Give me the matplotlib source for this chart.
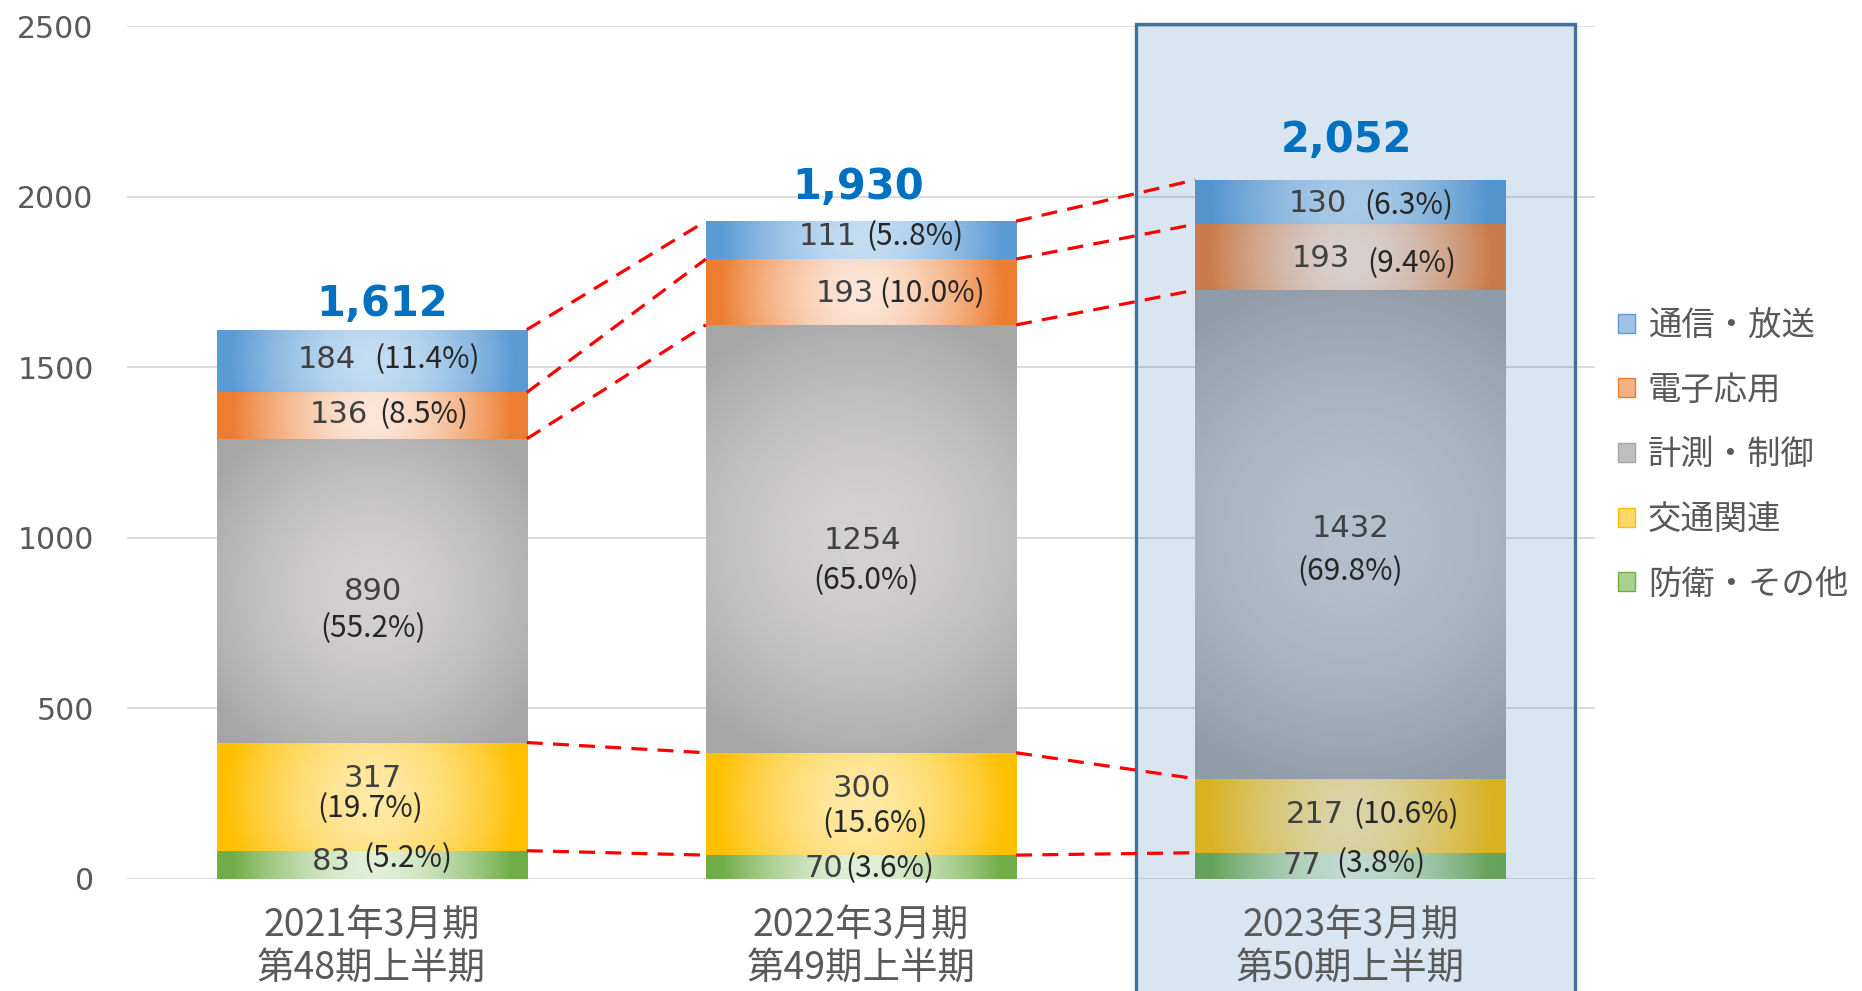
import numpy as np
import matplotlib
matplotlib.use("Agg")
import matplotlib.pyplot as plt
from matplotlib.patches import Rectangle, Patch
from matplotlib.colors import to_rgb

plt.rcParams['font.family'] = ['DejaVu Sans', 'Noto Sans CJK JP']
CJK = ['Noto Sans CJK JP', 'DejaVu Sans']

# ---------------- data ----------------
cat_line1 = ['2021年3月期', '2022年3月期', '2023年3月期']
cat_line2 = ['第48期上半期', '第49期上半期', '第50期上半期']
series_names = ['防衛・その他', '交通関連', '計測・制御', '電子応用', '通信・放送']  # bottom -> top
defense = [83, 70, 77]
traffic = [317, 300, 217]
measure = [890, 1254, 1432]
electronic = [136, 193, 193]
telecom = [184, 111, 130]
pct_defense = ['(5.2%)', '(3.6%)', '(3.8%)']
pct_traffic = ['(19.7%)', '(15.6%)', '(10.6%)']
pct_measure = ['(55.2%)', '(65.0%)', '(69.8%)']
pct_electronic = ['(8.5%)', '(10.0%)', '(9.4%)']
pct_telecom = ['(11.4%)', '(5..8%)', '(6.3%)']
totals = ['1,612', '1,930', '2,052']
yticks = [0, 500, 1000, 1500, 2000, 2500]

series_vals = [defense, traffic, measure, electronic, telecom]
series_pcts = [pct_defense, pct_traffic, pct_measure, pct_electronic, pct_telecom]

# ---------------- styles ----------------
outer_cols = ['#70AD47', '#FFC000', '#A6A6A6', '#ED7D31', '#5B9BD5']
inner_cols = ['#E2F0D9', '#FFE9A6', '#D3D1D1', '#FCE6D8', '#C4DDF2']
legend_cols = ['#A9D18E', '#FFD966', '#BFBFBF', '#F4B183', '#9DC3E6']
legend_edges = ['#70AD47', '#FFC000', '#A6A6A6', '#ED7D31', '#5B9BD5']

# label offsets in reference display px: (num_dx, num_dy, pct_dx, pct_dy), dy positive = down
label_layout = {
    (0, 0): (-34, -3, 30, -5), (1, 0): (1, -15.6, -1, 10.4), (2, 0): (1, 0.7, 1, 31.7),
    (3, 0): (-28, -1, 44, -1), (4, 0): (-38, -1, 47, -1),
    (0, 1): (-31, 1, 24, 1), (1, 1): (1, -12.8, 12, 16.2), (2, 1): (1, 1.3, 4, 35.3),
    (3, 1): (-14, 1, 60, 1), (4, 1): (-28, -3, 45, -3),
    (0, 2): (-41, 0, 26, -2), (1, 2): (-30, -0.7, 47, -0.7), (2, 2): (0, -5, 0, 31),
    (3, 2): (-25, 1.4, 52, 5.4), (4, 2): (-27, 1, 49, 3),
}
total_layout = [(9, 21.6), (-2, 29), (-3, 33.5)]
P = 0.855  # display px -> points

W, H = 1862, 991
fig = plt.figure(figsize=(W / 100, H / 100), dpi=100)
ax = fig.add_axes([127 / W, 1 - 879 / H, (1595 - 127) / W, (879 - 26) / H])
ax.set_xlim(-0.5, 2.5)
ax.set_ylim(0, 2500)

x = np.arange(len(cat_line1))
bw = 0.634

for s in ax.spines.values():
    s.set_visible(False)
ax.set_yticks(yticks)
ax.set_yticklabels([str(v) for v in yticks], fontsize=21.5, color='#595959')
ax.tick_params(axis='y', length=0, pad=24)
ax.set_xticks([])
ax.grid(axis='y', color='#D9D9D9', linewidth=1.3, zorder=0)
ax.set_axisbelow(True)


def grad_image(outer, inner, wpx, hpx, n=160):
    u = np.linspace(-0.5, 0.5, n) * wpx
    v = np.linspace(-0.5, 0.5, n) * hpx
    U, V = np.meshgrid(u, v)
    r = np.sqrt(U ** 2 + V ** 2) / (0.5 * np.sqrt(wpx ** 2 + hpx ** 2))
    t = (np.clip(r / 0.9, 0, 1) ** 1.7)[..., None]
    o = np.array(to_rgb(outer))
    c = np.array(to_rgb(inner))
    return c * (1 - t) + o * t


bottoms = np.zeros(len(x))
tops_per_series = []
for si, vals in enumerate(series_vals):
    bars = ax.bar(x, vals, bw, bottom=bottoms, color=outer_cols[si], edgecolor='none', zorder=2)
    for bi, patch in enumerate(bars.patches):
        x0, y0 = patch.get_x(), patch.get_y()
        x1, y1 = x0 + patch.get_width(), y0 + patch.get_height()
        p0 = ax.transData.transform((x0, y0))
        p1 = ax.transData.transform((x1, y1))
        img = grad_image(outer_cols[si], inner_cols[si], abs(p1[0] - p0[0]), abs(p1[1] - p0[1]))
        im = ax.imshow(img, extent=(x0, x1, y0, y1), origin='lower', aspect='auto',
                       interpolation='bilinear', zorder=2.1)
        im.set_clip_path(patch)
    bottoms = bottoms + np.array(vals)
    tops_per_series.append(bottoms.copy())

ax.set_xlim(-0.5, 2.5)
ax.set_ylim(0, 2500)

# highlight box around last category
hl = Rectangle((1.563, -400), 0.896, 2905, facecolor='#2E75B6', alpha=0.18,
               edgecolor='none', zorder=3, clip_on=False)
ax.add_patch(hl)
hl_edge = Rectangle((1.563, -400), 0.896, 2905, facecolor='none', edgecolor='#41719C',
                    linewidth=2.4, zorder=3.5, clip_on=False)
ax.add_patch(hl_edge)

# dashed connectors
for tops in tops_per_series:
    for bi in range(len(x) - 1):
        ax.plot([x[bi] + bw / 2, x[bi + 1] - bw / 2], [tops[bi], tops[bi + 1]],
                color='#FF0000', linewidth=2.3, linestyle=(0, (5, 3.2)), zorder=4,
                solid_capstyle='butt', dash_capstyle='butt')

# segment labels
bottoms = np.zeros(len(x))
for si, vals in enumerate(series_vals):
    for bi, v in enumerate(vals):
        mid = bottoms[bi] + v / 2
        ndx, ndy, pdx, pdy = label_layout[(si, bi)]
        ax.annotate(str(v), (x[bi], mid), xytext=(ndx * P, -ndy * P), textcoords='offset points',
                    ha='center', va='center', fontsize=22, color='#404040', zorder=6)
        ax.annotate(series_pcts[si][bi], (x[bi], mid), xytext=(pdx * P, -pdy * P),
                    textcoords='offset points', ha='center', va='center', fontsize=21.5,
                    color='#262626', family=CJK, zorder=6)
    bottoms = bottoms + np.array(vals)

# totals
for bi, t in enumerate(totals):
    dx, dy = total_layout[bi]
    ax.annotate(t, (x[bi], bottoms[bi]), xytext=(dx * P, dy * P), textcoords='offset points',
                ha='center', va='center', fontsize=30, fontweight='bold', color='#0070C0', zorder=6)

# category labels
for bi in range(len(x)):
    ax.annotate(cat_line1[bi], (x[bi], 0), xycoords=('data', 'axes fraction'),
                xytext=(0, -34), textcoords='offset points', ha='center', va='center',
                fontsize=27, color='#595959', family=CJK, annotation_clip=False, zorder=6)
    ax.annotate(cat_line2[bi], (x[bi], 0), xycoords=('data', 'axes fraction'),
                xytext=(0, -64), textcoords='offset points', ha='center', va='center',
                fontsize=27, color='#595959', family=CJK, annotation_clip=False, zorder=6)

# legend (top -> bottom: reverse of stack)
handles = [Patch(facecolor=legend_cols[i], edgecolor=legend_edges[i], linewidth=1)
           for i in reversed(range(len(series_names)))]
labels = [series_names[i] for i in reversed(range(len(series_names)))]
leg = fig.legend(handles, labels, loc='upper left', bbox_to_anchor=(1618 / W, 1 - 308 / H),
                 frameon=False, handlelength=0.5, handleheight=0.5,
                 handletextpad=0.4, labelspacing=0.89, borderpad=0, borderaxespad=0,
                 prop={'family': CJK, 'size': 24})
for txt in leg.get_texts():
    txt.set_color('#595959')

fig.savefig('out.png', dpi=100)
